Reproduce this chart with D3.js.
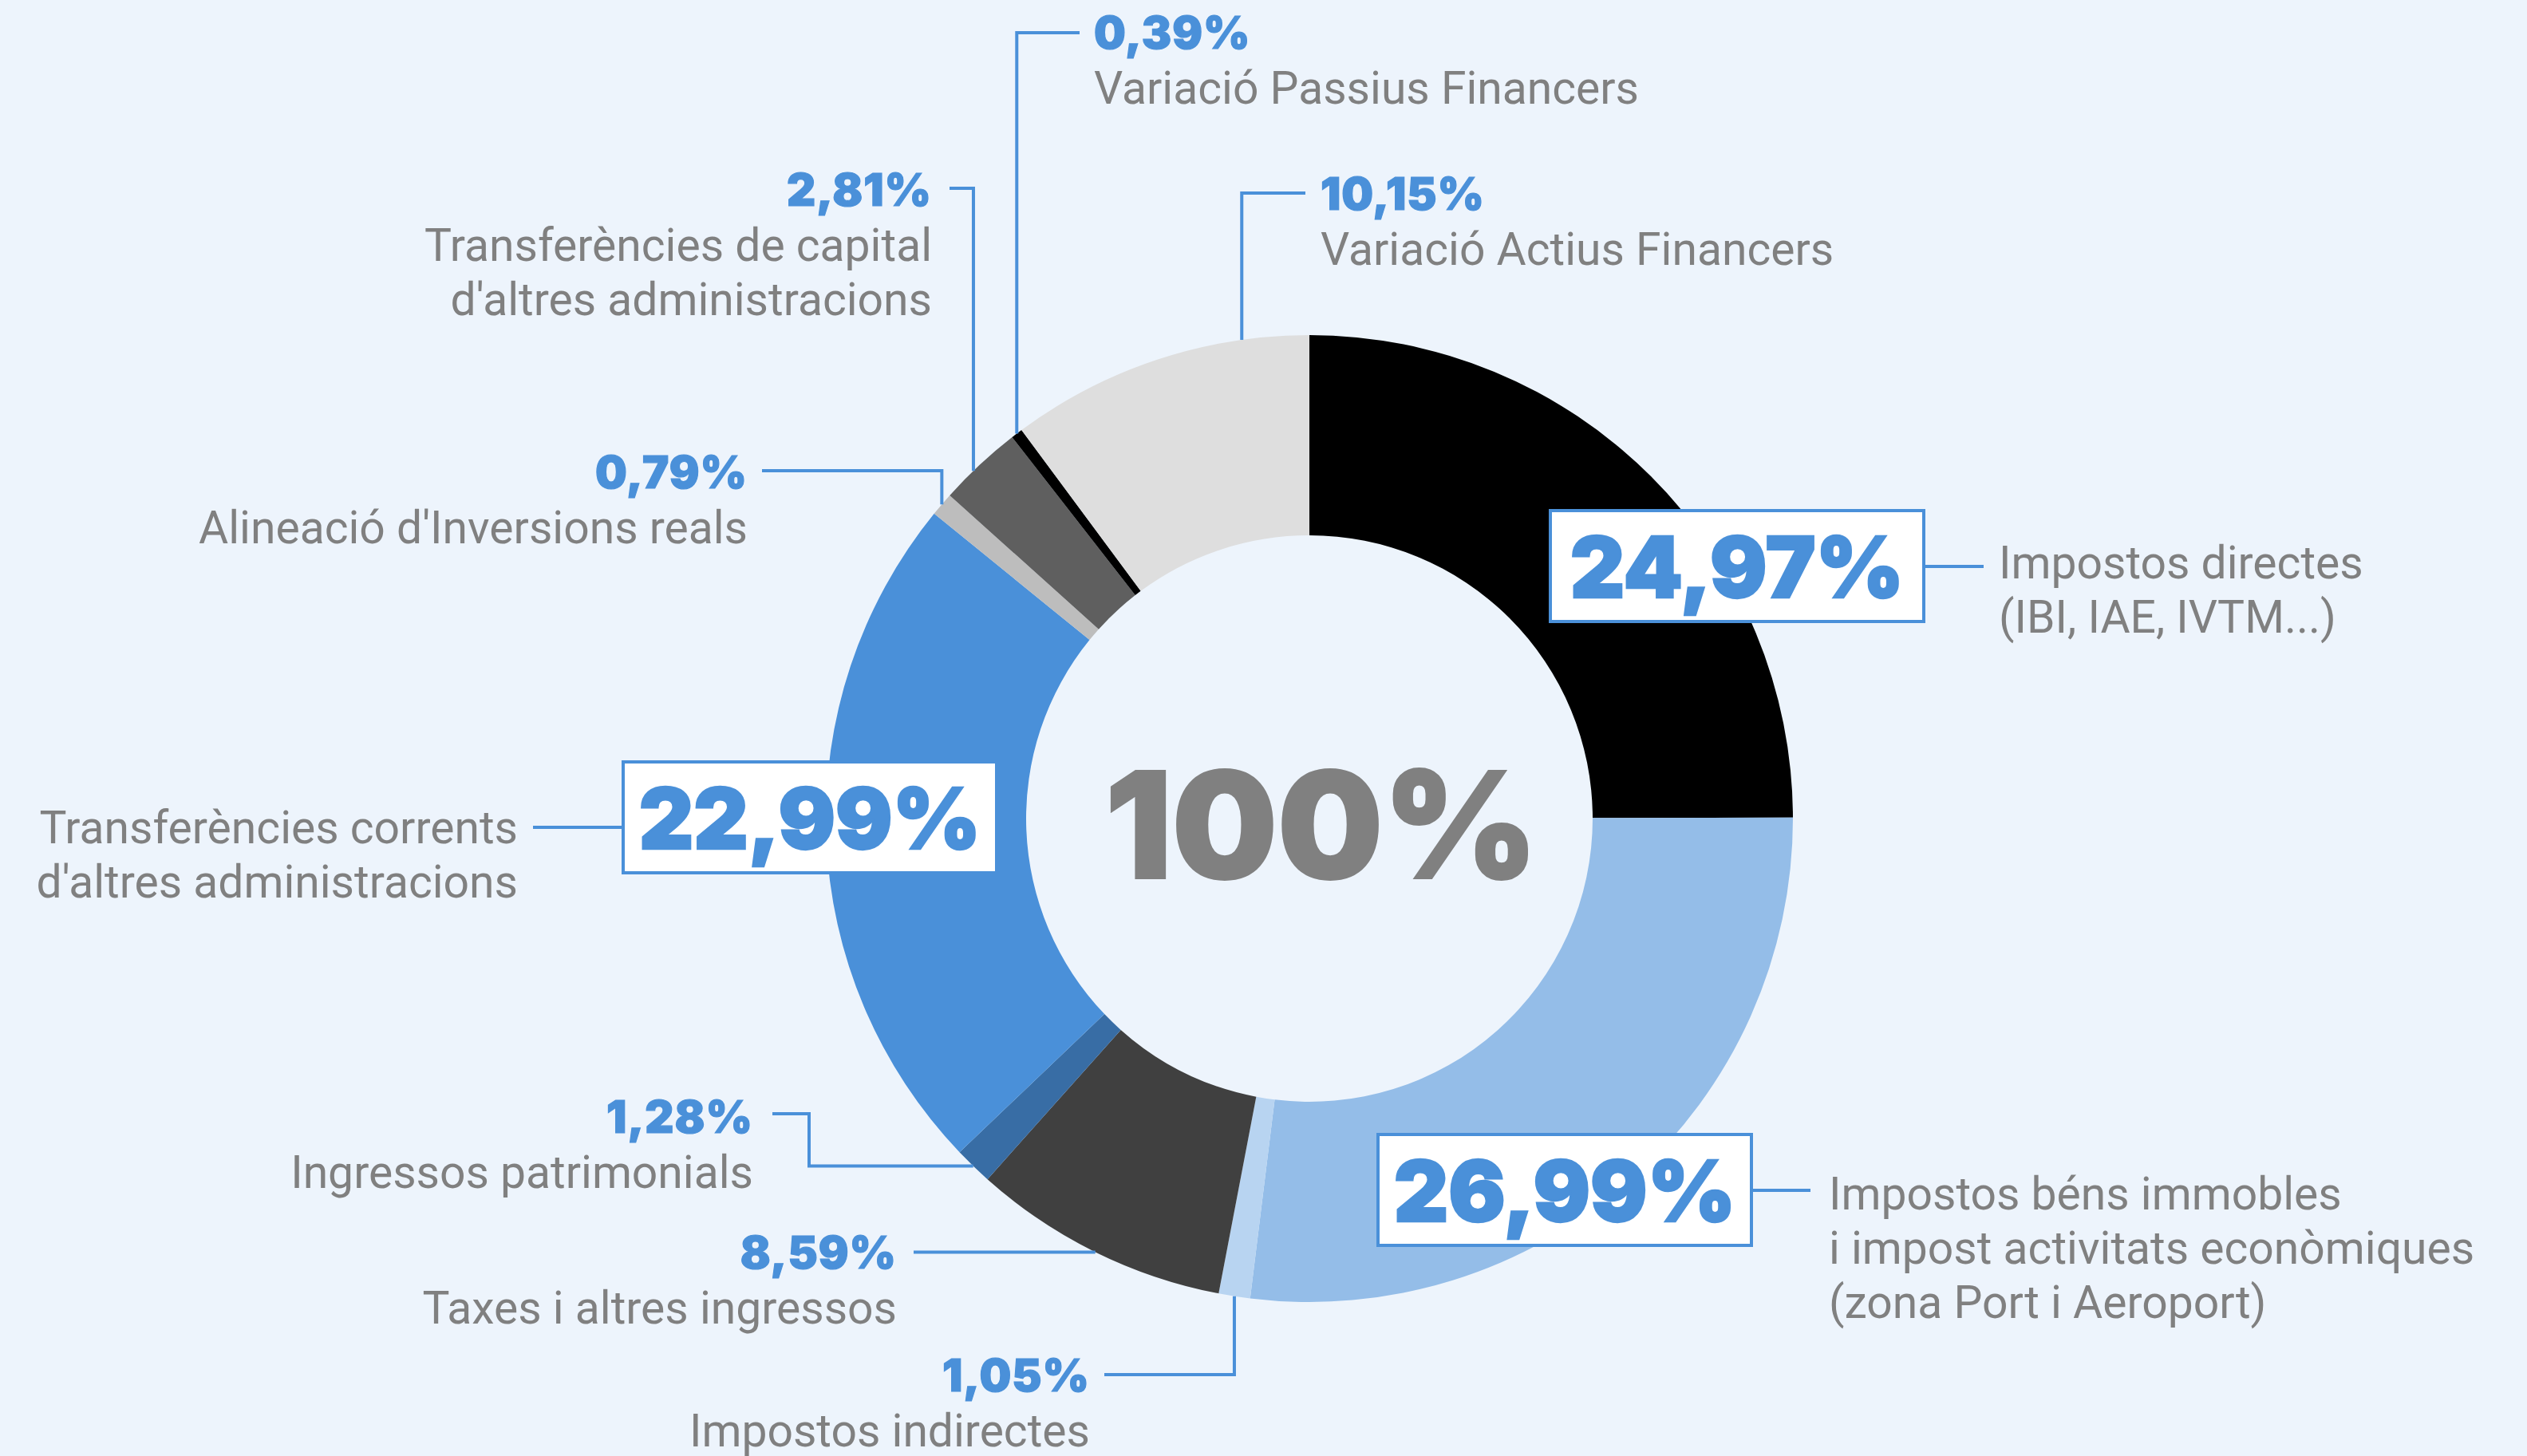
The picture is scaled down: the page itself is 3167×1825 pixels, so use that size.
<!DOCTYPE html>
<html>
<head>
<meta charset="utf-8">
<script src="https://cdn.jsdelivr.net/npm/d3@7"></script>
<style>
  html, body { margin: 0; padding: 0; background: #edf4fc; }
  .name { font-family: Roboto, sans-serif; font-size: 57px; fill: #808080; }
  .pct { font-family: Inter, sans-serif; font-weight: 900; fill: #4a90d9; stroke: #4a90d9; }
  .leader { fill: none; stroke: #4a90d9; stroke-width: 4; }
</style>
</head>
<body>
<div id="chart"></div>
<script>
// slices, clockwise from 12 o'clock
const categories = [
  ['Impostos directes', '(IBI, IAE, IVTM...)'],
  ['Impostos béns immobles', 'i impost activitats econòmiques', '(zona Port i Aeroport)'],
  ['Impostos indirectes'],
  ['Taxes i altres ingressos'],
  ['Ingressos patrimonials'],
  ['Transferències corrents', "d'altres administracions"],
  ["Alineació d'Inversions reals"],
  ['Transferències de capital', "d'altres administracions"],
  ['Variació Passius Financers'],
  ['Variació Actius Financers']
];
const values = [24.97, 26.99, 1.05, 8.59, 1.28, 22.99, 0.79, 2.81, 0.39, 10.15];
const colors = ['#000000', '#94bde8', '#b8d4f1', '#404040', '#386da5', '#4a90d9', '#bdbdbd', '#5f5f5f', '#000000', '#dedede'];
const totalLabel = '100%';

// label placement (same order as values)
// box: white framed label; otherwise small label with leader to the ring
const layout = [
  { box: [1943, 640], anchor: 'start', nameX: 2505, nameY: 725, leader: [[2413, 710], [2486, 710]] },
  { box: [1727, 1422], anchor: 'start', nameX: 2292, nameY: 1516, leader: [[2197, 1492], [2269, 1492]] },
  { anchor: 'end', x: 1366, y: 1744, t: 0.5, leader: [[1384, 1723], [null, 1723]] },
  { anchor: 'end', x: 1124, y: 1590, t: 0.5, leader: [[1145, null]] },
  { anchor: 'end', x: 944, y: 1420, t: 0.5, leader: [[968, 1396], [1014, 1396], [1014, null]] },
  { box: [781, 955], anchor: 'end', nameX: 649, nameY: 1057, leader: [[781, 1037], [668, 1037]] },
  { anchor: 'end', x: 937, y: 612, t: 0.5, leader: [[955, 590], [null, 590]] },
  { anchor: 'end', x: 1168, y: 258, t: 0.4, leader: [[1190, 236], [null, 236]] },
  { anchor: 'start', x: 1371, y: 61, t: 0.5, leader: [[1353, 41], [null, 41]] },
  { anchor: 'start', x: 1655, y: 263, t: 0.78, leader: [[1636, 242], [null, 242]] }
];

const width = 3167, height = 1825;
const cx = 1641, cy = 1026;
const outerR = 606, innerR = 355;
const boxW = 468, boxH = 139;
const lineH = 68;

const fmt = d3.formatLocale({ decimal: ',', thousands: '.', grouping: [3], currency: ['', '€'] }).format('.2f');

const svg = d3.select('#chart').append('svg')
  .attr('width', width)
  .attr('height', height)
  .style('display', 'block');

svg.append('rect').attr('width', width).attr('height', height).attr('fill', '#edf4fc');

const chart = svg.append('g').attr('transform', `translate(${cx},${cy})`);

const pie = d3.pie().sort(null).value(d => d);
const arcs = pie(values);
const arc = d3.arc().innerRadius(innerR).outerRadius(outerR);

chart.selectAll('.slice')
  .data(arcs)
  .join('path')
  .attr('class', 'slice')
  .attr('d', arc)
  .attr('fill', (d, i) => colors[i]);

// total in the hole
chart.append('text')
  .attr('x', 15)
  .attr('y', 75)
  .attr('text-anchor', 'middle')
  .attr('font-family', 'Inter, sans-serif')
  .attr('font-weight', 900)
  .attr('font-size', 186)
  .attr('fill', '#808080')
  .attr('stroke', '#808080')
  .attr('stroke-width', 2)
  .text(totalLabel);

const labels = svg.append('g');

arcs.forEach((d, i) => {
  const L = layout[i];
  const pct = fmt(values[i]) + '%';

  if (L.box) {
    const [bx, by] = L.box;
    labels.append('rect')
      .attr('x', bx).attr('y', by)
      .attr('width', boxW).attr('height', boxH)
      .attr('fill', '#ffffff')
      .attr('stroke', '#4a90d9')
      .attr('stroke-width', 4);
    labels.append('text')
      .attr('class', 'pct')
      .attr('x', bx + boxW / 2)
      .attr('y', by + boxH / 2 + 39)
      .attr('text-anchor', 'middle')
      .attr('font-size', 106)
      .attr('stroke-width', 2.5)
      .text(pct);
    labels.append('polyline')
      .attr('class', 'leader')
      .attr('points', L.leader.map(p => p.join(',')).join(' '));
    categories[i].forEach((line, k) => {
      labels.append('text')
        .attr('class', 'name')
        .attr('x', L.nameX)
        .attr('y', L.nameY + k * lineH)
        .attr('text-anchor', L.anchor)
        .text(line);
    });
  } else {
    // point on the outer edge of the slice
    const a = d.startAngle + (d.endAngle - d.startAngle) * L.t;
    const ex = cx + outerR * Math.sin(a);
    const ey = cy - outerR * Math.cos(a);
    const pts = L.leader.map(p => [p[0] === null ? ex : p[0], p[1] === null ? ey : p[1]]);
    pts.push([ex, ey]);
    labels.append('polyline')
      .attr('class', 'leader')
      .attr('points', pts.map(p => p.join(',')).join(' '));
    labels.append('text')
      .attr('class', 'pct')
      .attr('x', L.x)
      .attr('y', L.y)
      .attr('text-anchor', L.anchor)
      .attr('font-size', 56)
      .attr('stroke-width', 1.2)
      .style('letter-spacing', '1px')
      .text(pct);
    categories[i].forEach((line, k) => {
      labels.append('text')
        .attr('class', 'name')
        .attr('x', L.x)
        .attr('y', L.y + 69 + k * lineH)
        .attr('text-anchor', L.anchor)
        .text(line);
    });
  }
});
</script>
</body>
</html>
